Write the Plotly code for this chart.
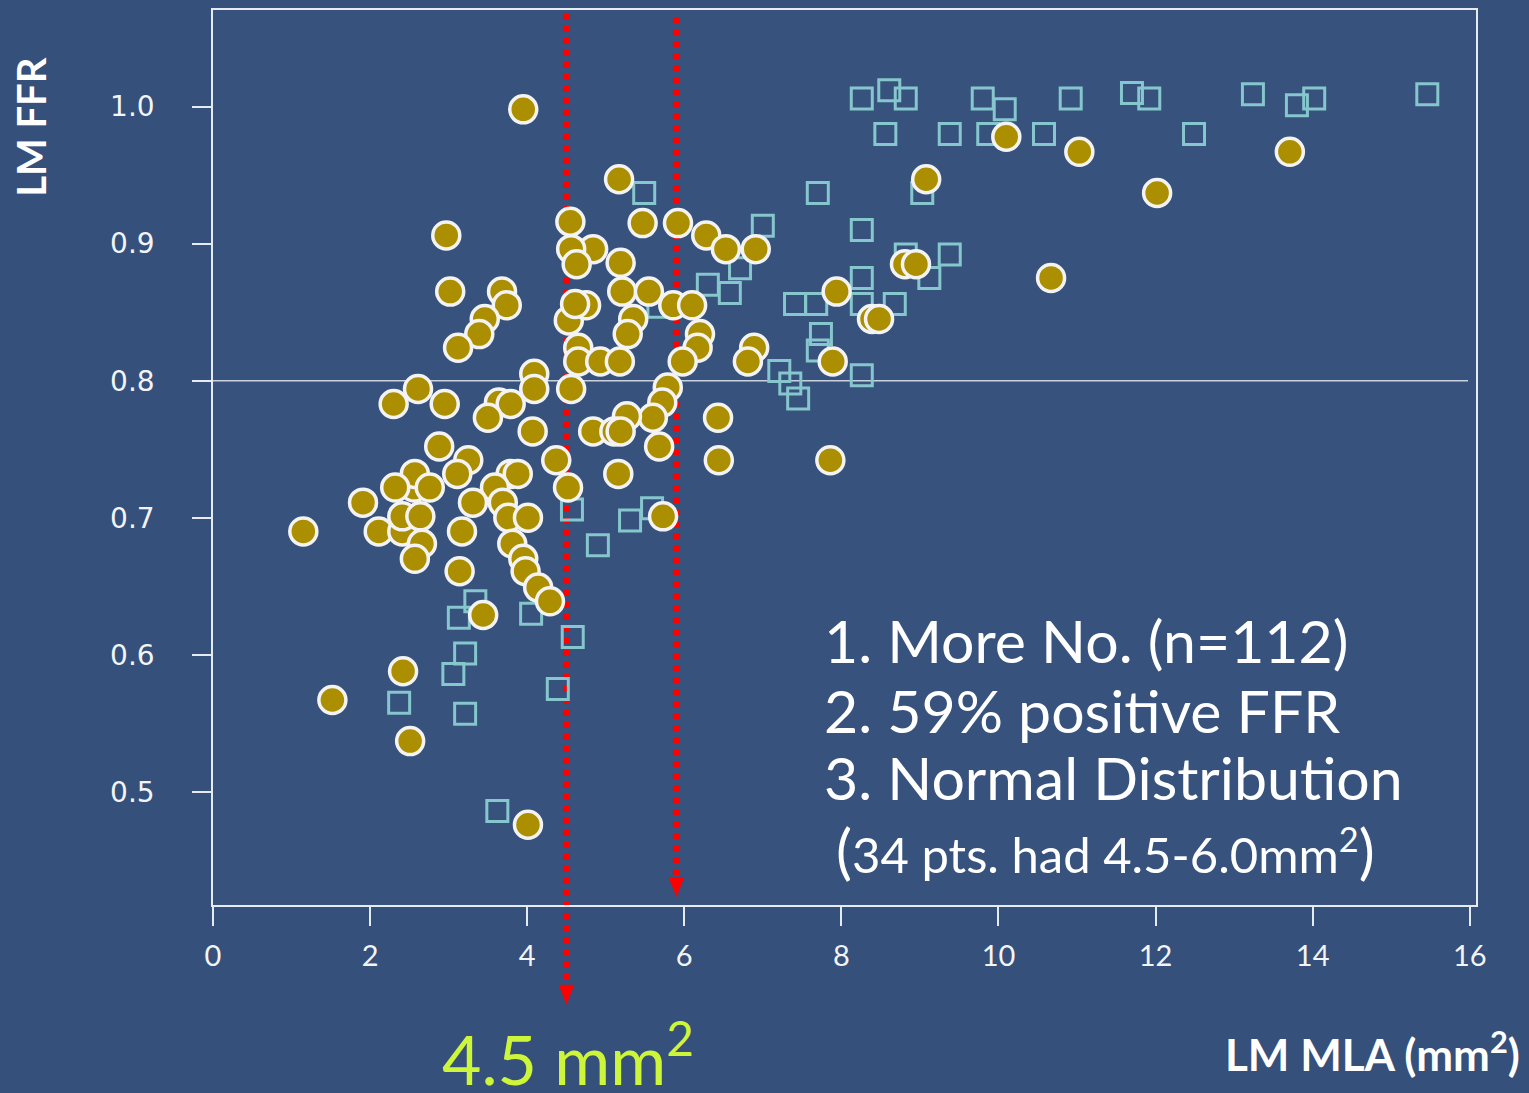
import plotly.graph_objs as go

# ----------------------------------------------------------------------
# values: LM MLA (mm2) vs LM FFR
circle_mla = [3.95, 5.17, 2.97, 4.55, 5.47, 5.92, 6.28, 6.53, 6.91, 4.84,
              4.56, 4.63, 5.19, 3.02, 3.68, 3.74, 3.46, 3.39, 3.12, 4.53,
              4.75, 4.61, 5.21, 5.55, 5.35, 5.28, 4.65, 4.65, 4.93, 5.18,
              5.86, 6.10, 6.20, 6.17, 5.98, 5.79, 5.72, 4.56, 4.09, 4.09,
              2.61, 2.30, 2.95, 3.64, 3.79, 3.50, 4.07, 5.60, 5.27, 4.84,
              5.11, 5.19, 5.68, 5.16, 5.73, 2.88, 3.25, 3.11, 4.37, 4.52,
              3.79, 3.88, 3.59, 3.69, 3.76, 4.01, 3.31, 1.91, 1.15, 2.11,
              2.41, 2.41, 2.56, 2.57, 2.32, 2.76, 2.64, 2.66, 2.57, 3.17,
              3.14, 3.81, 3.95, 3.98, 4.14, 4.29, 3.44, 2.42, 1.52, 2.51,
              4.01, 9.08, 10.10, 11.03, 13.71, 12.02, 10.67, 7.94, 8.81, 8.95,
              8.39, 8.48, 7.89, 6.89, 6.81, 6.43, 6.44, 7.86]
circle_ffr = [0.998, 0.947, 0.906, 0.916, 0.915, 0.915, 0.906, 0.896, 0.896, 0.896,
              0.896, 0.885, 0.886, 0.865, 0.865, 0.855, 0.845, 0.834, 0.824, 0.844,
              0.855, 0.856, 0.865, 0.865, 0.845, 0.834, 0.824, 0.814, 0.814, 0.814,
              0.855, 0.855, 0.834, 0.824, 0.814, 0.795, 0.784, 0.794, 0.805, 0.794,
              0.794, 0.783, 0.783, 0.784, 0.783, 0.773, 0.763, 0.773, 0.774, 0.763,
              0.763, 0.763, 0.752, 0.732, 0.701, 0.752, 0.742, 0.732, 0.742, 0.722,
              0.732, 0.732, 0.722, 0.711, 0.700, 0.700, 0.711, 0.711, 0.690, 0.690,
              0.690, 0.701, 0.722, 0.732, 0.722, 0.722, 0.701, 0.681, 0.670, 0.690,
              0.661, 0.681, 0.670, 0.661, 0.649, 0.639, 0.629, 0.588, 0.567, 0.537,
              0.476, 0.947, 0.978, 0.967, 0.967, 0.937, 0.875, 0.865, 0.885, 0.885,
              0.845, 0.845, 0.814, 0.824, 0.814, 0.773, 0.742, 0.742]

square_mla = [5.49, 4.57, 5.31, 5.59, 4.90, 3.34, 3.13, 4.05, 4.58, 3.21,
              3.06, 2.37, 3.21, 4.39, 3.62, 8.26, 8.61, 8.82, 9.80, 10.08,
              10.92, 11.70, 11.92, 13.24, 13.80, 14.02, 15.46, 8.56, 9.38, 9.87,
              10.58, 12.49, 7.70, 9.03, 7.00, 8.26, 8.82, 9.38, 6.71, 8.26,
              9.12, 6.30, 6.58, 7.41, 7.68, 8.26, 8.68, 7.74, 7.70, 7.21,
              7.35, 7.45, 8.26, 5.67]
square_ffr = [0.937, 0.706, 0.698, 0.707, 0.680, 0.639, 0.627, 0.630, 0.613, 0.601,
              0.586, 0.565, 0.557, 0.575, 0.486, 1.006, 1.012, 1.006, 1.006, 0.998,
              1.006, 1.010, 1.006, 1.009, 1.001, 1.006, 1.009, 0.980, 0.980, 0.980,
              0.980, 0.980, 0.937, 0.937, 0.913, 0.910, 0.892, 0.892, 0.882, 0.875,
              0.875, 0.870, 0.864, 0.856, 0.856, 0.856, 0.856, 0.834, 0.822, 0.807,
              0.798, 0.787, 0.804, 0.854]

x_ticks = [0, 2, 4, 6, 8, 10, 12, 14, 16]
y_ticks = [0.5, 0.6, 0.7, 0.8, 0.9, 1.0]
y_tick_text = ['0.5', '0.6', '0.7', '0.8', '0.9', '1.0']

ffr_cut = 0.8
mla_low = 4.5
mla_high = 5.9

notes = ['1. More No. (n=112)', '2. 59% positive FFR', '3. Normal Distribution']
note_small = ('<span style="font-size:60px">(</span>34 pts. had 4.5-6.0mm<sup>2</sup>'
              '<span style="font-size:60px">)</span>')

# ----------------------------------------------------------------------
bg = '#34507b'
red = '#ff0000'

fig = go.Figure()

# open squares first, circles drawn over them
fig.add_trace(go.Scatter(
    x=square_mla, y=square_ffr, mode='markers', showlegend=False,
    marker=dict(symbol='square-open', size=21, color='#86c6cd', line=dict(width=3)),
))
fig.add_trace(go.Scatter(
    x=circle_mla, y=circle_ffr, mode='markers', showlegend=False,
    marker=dict(symbol='circle', size=27, color='#ab8f00',
                line=dict(color='#f3f3f3', width=3.5)),
))

shapes = [
    # FFR 0.8 reference line
    dict(type='line', xref='paper', yref='y', x0=-0.0103, x1=0.9937,
         y0=ffr_cut, y1=ffr_cut, line=dict(color='#c9d1de', width=1.5), layer='below'),
]

# dotted red cut-off lines with arrow heads
for xv, ytop, yend, ytip in [(mla_low, 0.9955, -0.089, -0.1115),
                             (mla_high, 0.992, 0.031, 0.009)]:
    shapes.append(dict(type='line', xref='x', yref='paper', x0=xv, x1=xv,
                       y0=ytop, y1=yend, layer='below',
                       line=dict(color=red, width=7, dash='6px,6px')))
    shapes.append(dict(type='path', xref='x', yref='paper', layer='above',
                       path='M %f,%f L %f,%f L %f,%f Z' % (xv - 0.1, yend, xv + 0.1, yend, xv, ytip),
                       fillcolor=red, line=dict(color=red, width=0)))

annotations = []
for i, t in enumerate(notes):
    annotations.append(dict(text=t, xref='paper', yref='paper', x=0.482, y=[0.2954, 0.2174, 0.1427][i],
                            xanchor='left', yanchor='middle', showarrow=False,
                            font=dict(family='Lato', size=59, color='#ffffff')))
annotations.append(dict(text=note_small, xref='paper', yref='paper', x=0.492, y=0.0613,
                        xanchor='left', yanchor='middle', showarrow=False,
                        font=dict(family='Lato', size=49, color='#ffffff')))
annotations.append(dict(text='4.5 mm<sup>2</sup>', xref='paper', yref='paper', x=0.1797, y=-0.166,
                        xanchor='left', yanchor='middle', showarrow=False,
                        font=dict(family='Lato', size=68, color='#cdf53a')))
annotations.append(dict(text='<b>LM MLA (mm<sup>2</sup>)</b>', xref='paper', yref='paper', x=1.0364, y=-0.164,
                        xanchor='right', yanchor='middle', showarrow=False,
                        font=dict(family='Lato', size=44, color='#ffffff')))
annotations.append(dict(text='<b>LM FFR</b>', xref='paper', yref='paper', x=-0.144, y=0.8696,
                        xanchor='center', yanchor='middle', showarrow=False, textangle=-90,
                        font=dict(family='Lato', size=40, color='#ffffff')))

fig.update_layout(
    width=1529, height=1093,
    margin=dict(l=213, r=53, t=8, b=188),
    paper_bgcolor=bg, plot_bgcolor='#36527d',
    shapes=shapes, annotations=annotations,
    xaxis=dict(range=[0, 16.08], tickvals=x_ticks, showgrid=False, zeroline=False,
               showline=True, mirror=True, linecolor='#e6eaf1', linewidth=1.5,
               ticks='outside', ticklen=19, tickwidth=1.5, tickcolor='#e6eaf1',
               ticklabelstandoff=5,
               tickfont=dict(family='Lato', size=29, color='#f2f4f8')),
    yaxis=dict(range=[0.4174, 1.0705], tickvals=y_ticks, ticktext=y_tick_text,
               showgrid=False, zeroline=False,
               showline=True, mirror=True, linecolor='#e6eaf1', linewidth=1.5,
               ticks='outside', ticklen=19, tickwidth=1.5, tickcolor='#e6eaf1',
               ticklabelstandoff=32,
               tickfont=dict(family='DejaVu Sans', size=28, color='#f2f4f8')),
)

# page margin removed so the figure fills the window exactly
fig.write_html('out.html', config={'displayModeBar': False},
               post_script="document.body.style.margin='0';")
